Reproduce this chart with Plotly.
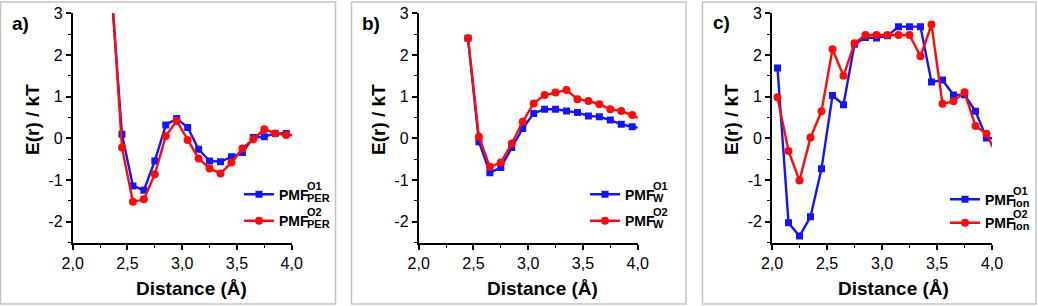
import plotly.graph_objects as go

W, H = 1038, 306

# ---------------- data ----------------
dist_a = [2.35, 2.45, 2.55, 2.65, 2.75, 2.85, 2.95, 3.05, 3.15, 3.25, 3.35, 3.45, 3.55, 3.65, 3.75, 3.85, 3.95, 4.05]
pmf_per_o1 = [3.64, 0.10, -1.14, -1.24, -0.54, 0.32, 0.48, 0.26, -0.26, -0.54, -0.56, -0.44, -0.34, 0.02, 0.04, 0.12, 0.12, 0.04]
pmf_per_o2 = [3.86, -0.22, -1.52, -1.46, -0.86, 0.06, 0.42, -0.04, -0.48, -0.72, -0.84, -0.58, -0.24, -0.02, 0.22, 0.12, 0.08, 0.08]

dist_b = [2.45, 2.55, 2.65, 2.75, 2.85, 2.95, 3.05, 3.15, 3.25, 3.35, 3.45, 3.55, 3.65, 3.75, 3.85, 3.95, 4.05]
pmf_w_o1 = [2.40, -0.08, -0.82, -0.70, -0.22, 0.24, 0.60, 0.70, 0.70, 0.66, 0.62, 0.54, 0.52, 0.44, 0.34, 0.28, 0.24]
pmf_w_o2 = [2.40, 0.04, -0.68, -0.58, -0.12, 0.40, 0.84, 1.04, 1.10, 1.16, 0.94, 0.90, 0.82, 0.70, 0.66, 0.56, 0.44]

dist_c = [2.05, 2.15, 2.25, 2.35, 2.45, 2.55, 2.65, 2.75, 2.85, 2.95, 3.05, 3.15, 3.25, 3.35, 3.45, 3.55, 3.65, 3.75, 3.85, 3.95, 4.05]
pmf_ion_o1 = [1.69, -2.02, -2.34, -1.88, -0.73, 1.03, 0.81, 2.26, 2.42, 2.41, 2.46, 2.68, 2.68, 2.68, 1.35, 1.40, 1.04, 1.05, 0.65, 0.01, 0.00]
pmf_ion_o2 = [0.99, -0.30, -1.01, 0.02, 0.65, 2.14, 1.50, 2.28, 2.48, 2.48, 2.48, 2.48, 2.48, 1.97, 2.73, 0.83, 0.89, 1.11, 0.30, 0.11, -0.45]

panel_labels = ["a)", "b)", "c)"]
sub_labels = ["PER", "W", "Ion"]
sup_labels = ["O1", "O2"]
x_tick_vals = [2.0, 2.5, 3.0, 3.5, 4.0]
x_tick_text = ["2,0", "2,5", "3,0", "3,5", "4,0"]
y_tick_vals = [-2, -1, 0, 1, 2, 3]
y_tick_text = ["-2", "-1", "0", "1", "2", "3"]
x_title = "Distance (Å)"
y_title = "E(r) / kT"

BLUE = "#1414ff"
RED = "#ff0a0a"
FONT = "Liberation Sans, Arial, sans-serif"

# ---------------- layout geometry (pixels) ----------------
panels = [
    dict(box=(0.5, 335.5), ax=(72.7, 291.7), xt=191.7, yt=33, lab=(20.5, 23.5),
         leg_left=239, rows=(194.3, 220.7)),
    dict(box=(351.5, 686.0), ax=(418.7, 637.7), xt=542.7, yt=379, lab=(371, 23.5),
         leg_left=585, rows=(194.3, 220.7)),
    dict(box=(702.5, 1036.0), ax=(772.0, 992.0), xt=893.7, yt=732, lab=(721.5, 22.5),
         leg_left=945, rows=(199.3, 222.7)),
]
y_top, y_bot = 13.3, 242.7


def px(x):
    return x / W


def py(y):
    return 1 - y / H


series = [
    (dist_a, pmf_per_o1, pmf_per_o2),
    (dist_b, pmf_w_o1, pmf_w_o2),
    (dist_c, pmf_ion_o1, pmf_ion_o2),
]

fig = go.Figure()
layout = dict(
    width=W, height=H, margin=dict(l=0, r=0, t=0, b=0, pad=0, autoexpand=False),
    paper_bgcolor="white", plot_bgcolor="white",
    showlegend=True, font=dict(family=FONT, color="black"),
)
annotations = []
shapes = []

for i, (p, (xd, y1, y2)) in enumerate(zip(panels, series)):
    n = "" if i == 0 else str(i + 1)
    legname = "legend" if i == 0 else f"legend{i + 1}"
    fig.add_trace(go.Scatter(
        x=xd, y=y1, mode="lines+markers", name="<b>PMF</b>",
        line=dict(color=BLUE, width=2.4),
        marker=dict(symbol="square", size=7, color=BLUE),
        xaxis="x" + n, yaxis="y" + n, legend=legname, legendgroup=f"g{i}a",
    ))
    fig.add_trace(go.Scatter(
        x=xd, y=y2, mode="lines+markers", name="<b>PMF</b>",
        line=dict(color=RED, width=2.4),
        marker=dict(symbol="circle", size=8, color=RED),
        xaxis="x" + n, yaxis="y" + n, legend=legname, legendgroup=f"g{i}b",
    ))
    common = dict(
        showline=True, linecolor="black", linewidth=1.8, mirror=False,
        ticks="outside", ticklen=5, tickwidth=1.6, tickcolor="black",
        showgrid=False, zeroline=False, automargin=False,
        tickfont=dict(family=FONT, size=16, color="black"),
    )
    layout["xaxis" + n] = dict(
        common, domain=[px(p["ax"][0]), px(p["ax"][1])], range=[2.0, 4.0],
        anchor="y" + n, tickvals=x_tick_vals, ticktext=x_tick_text,
        minor=dict(ticks="outside", ticklen=3, tickwidth=1.4, tickcolor="black", dtick=0.25, tick0=2.0),
    )
    layout["yaxis" + n] = dict(
        common, domain=[py(y_bot), py(y_top)], range=[-2.5, 3.0],
        anchor="x" + n, tickvals=y_tick_vals, ticktext=y_tick_text,
        minor=dict(ticks="outside", ticklen=3, tickwidth=1.4, tickcolor="black", dtick=0.5, tick0=0),
    )
    r1, r2 = p["rows"]
    h_item = 14 * 1.3 + 3
    top = r1 - 5 - h_item / 2
    gap = (r2 - r1) - h_item
    layout[legname] = dict(
        x=px(p["leg_left"]), xanchor="left", y=py(top), yanchor="top",
        bgcolor="rgba(0,0,0,0)", borderwidth=0, traceorder="grouped",
        tracegroupgap=max(gap, 0), font=dict(family=FONT, size=14, color="black"),
    )
    # border box
    shapes.append(dict(type="rect", xref="paper", yref="paper",
                       x0=px(p["box"][0]), x1=px(p["box"][1]), y0=py(304), y1=py(2),
                       line=dict(color="#c4c4c4", width=1.5), fillcolor="rgba(0,0,0,0)", layer="below"))
    # panel label
    annotations.append(dict(text=f"<b>{panel_labels[i]}</b>", xref="paper", yref="paper",
                            x=px(p["lab"][0]), y=py(p["lab"][1]), xanchor="center", yanchor="middle",
                            showarrow=False, font=dict(family=FONT, size=19, color="black")))
    # axis titles
    annotations.append(dict(text=f"<b>{x_title}</b>", xref="paper", yref="paper",
                            x=px(p["xt"]), y=py(288), xanchor="center", yanchor="middle",
                            showarrow=False, font=dict(family=FONT, size=19, color="black")))
    annotations.append(dict(text=f"<b>{y_title}</b>", xref="paper", yref="paper",
                            x=px(p["yt"]), y=py(120), xanchor="center", yanchor="middle",
                            textangle=-90, showarrow=False, font=dict(family=FONT, size=19, color="black")))
    # stacked super/subscripts of the legend text
    sx = p["leg_left"] + 40 + 26
    for row, sup in zip((r1, r2), sup_labels):
        annotations.append(dict(text=f"<b>{sup}</b>", xref="paper", yref="paper",
                                x=px(sx), y=py(row - 8.8), xanchor="left", yanchor="middle",
                                showarrow=False, font=dict(family=FONT, size=11, color="black")))
        annotations.append(dict(text=f"<b>{sub_labels[i]}</b>", xref="paper", yref="paper",
                                x=px(sx), y=py(row + 3.6), xanchor="left", yanchor="middle",
                                showarrow=False, font=dict(family=FONT, size=11, color="black")))

layout["annotations"] = annotations
layout["shapes"] = shapes
fig.update_layout(**layout)
fig.write_html(
    "out.html",
    config={"displayModeBar": False},
    post_script="document.body.style.margin='0';document.body.style.overflow='hidden';",
)
